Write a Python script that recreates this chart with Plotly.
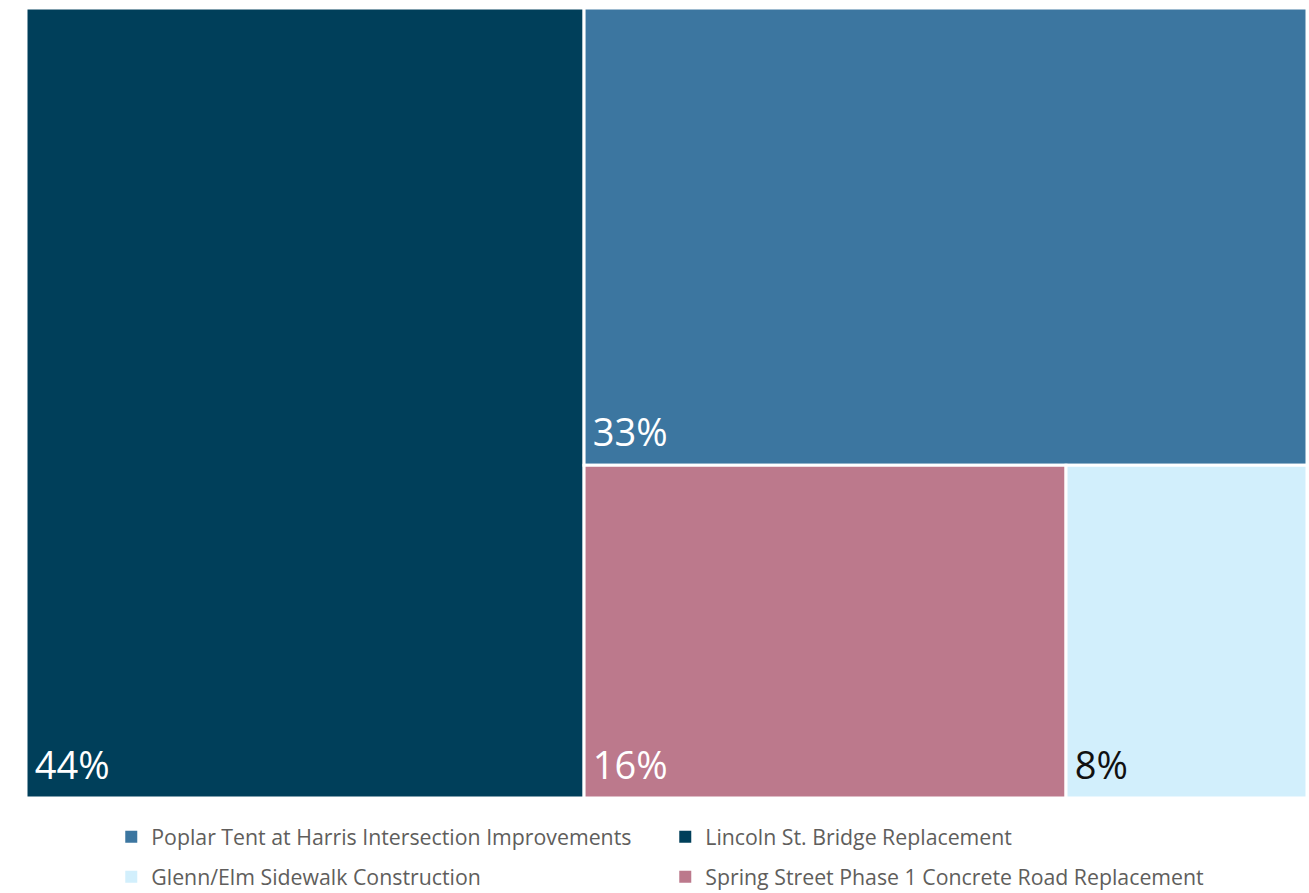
import plotly.graph_objects as go

# Share of total project spend, by project
projects = [
    "Poplar Tent at Harris Intersection Improvements",
    "Lincoln St. Bridge Replacement",
    "Glenn/Elm Sidewalk Construction",
    "Spring Street Phase 1 Concrete Road Replacement",
]
shares = [33, 44, 8, 16]
colors = ["#3C76A0", "#003F5A", "#D2EFFC", "#BC798C"]
label_colors = ["#FFFFFF", "#FFFFFF", "#111111", "#FFFFFF"]
legend_rows = ["legend", "legend", "legend2", "legend2"]

fig = go.Figure()

fig.add_trace(go.Treemap(
    ids=projects,
    labels=projects,
    parents=[""] * len(projects),
    values=shares,
    sort=True,
    texttemplate="<span style='font-size:22px'>\u00a0</span>%{value}%<sub>\u00a0</sub>",
    textposition="bottom left",
    textfont=dict(family="Open Sans, sans-serif", size=38, color=label_colors),
    marker=dict(colors=colors, line=dict(color="#FFFFFF", width=3),
                pad=dict(t=0, l=0, r=0, b=0)),
    tiling=dict(packing="squarify", pad=0),
    pathbar=dict(visible=False),
    hovertemplate="%{label}<br>%{value}%<extra></extra>",
    domain=dict(x=[0, 1], y=[0, 1]),
))

# Legend entries as square swatches, two per row
for name, col, lg in zip(projects, colors, legend_rows):
    fig.add_trace(go.Scatter(
        x=[None], y=[None], mode="markers", name=name,
        marker=dict(symbol="square", size=11, color=col),
        showlegend=True, hoverinfo="skip", legend=lg,
    ))

legend_style = dict(
    orientation="h",
    xref="container", yref="container",
    x=0.085, xanchor="left",
    yanchor="middle",
    entrywidth=509, entrywidthmode="pixels",
    font=dict(family="Open Sans, sans-serif", size=21.3, color="#605E5C"),
    itemsizing="constant",
    bgcolor="rgba(0,0,0,0)",
)

fig.update_layout(
    width=1309, height=893,
    margin=dict(l=26, r=2, t=8, b=95),
    paper_bgcolor="#FFFFFF",
    plot_bgcolor="#FFFFFF",
    xaxis=dict(visible=False),
    yaxis=dict(visible=False),
    legend=dict(legend_style, y=1 - 837 / 893),
    legend2=dict(legend_style, y=1 - 877 / 893),
)

fig.write_html("out.html")
